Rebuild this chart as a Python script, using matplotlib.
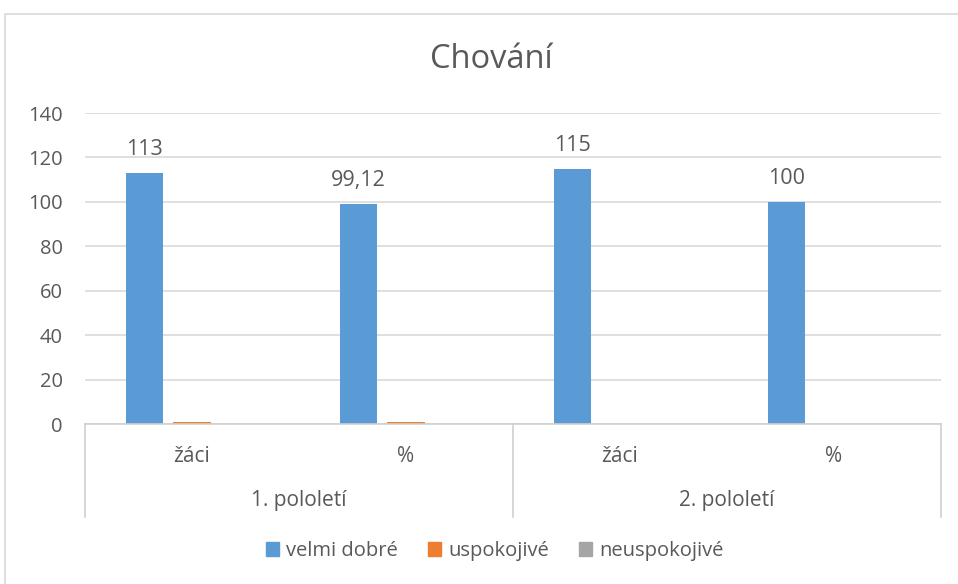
import matplotlib
matplotlib.use("Agg")
import matplotlib.pyplot as plt
from matplotlib.patches import Rectangle, Patch
from matplotlib.lines import Line2D
import matplotlib.transforms as mtransforms

plt.rcParams['font.family'] = ['Open Sans', 'DejaVu Sans']

title = "Chování"
categories = ["žáci", "%", "žáci", "%"]
groups = ["1. pololetí", "2. pololetí"]
series_names = ["velmi dobré", "uspokojivé", "neuspokojivé"]
velmi_dobre = [113, 99.12, 115, 100]
uspokojive = [1, 0.88, 0, 0]
neuspokojive = [0, 0, 0, 0]
labels_vd = ["113", "99,12", "115", "100"]
yticks = [0, 20, 40, 60, 80, 100, 120, 140]

colors = ["#5B9BD5", "#ED7D31", "#A5A5A5"]
text_color = "#595959"

W, H = 958, 584
fig = plt.figure(figsize=(W / 100, H / 100), dpi=100)

# chart area border
fig.patches.append(Rectangle((5 / W, -0.1), 1.2, 1 - 14 / H + 0.1, transform=fig.transFigure,
                             fill=False, edgecolor="#D9D9D9", linewidth=1.2))

ax = fig.add_axes([85 / W, 1 - 424 / H, (941 - 85) / W, (424 - 113) / H])
ax.set_xlim(-0.5, 3.5)
ax.set_ylim(0, 140)

bw = 0.173
step = 0.222
x = list(range(len(categories)))
for i, (vals, c) in enumerate(zip([velmi_dobre, uspokojive, neuspokojive], colors)):
    xs = [xx + (i - 1) * step for xx in x]
    ax.bar(xs, vals, width=bw, color=c, zorder=3)
    if i == 0:
        for xx, v, lab in zip(xs, vals, labels_vd):
            ax.annotate(lab, (xx, v), xytext=(0, 9), textcoords="offset points",
                        ha="center", va="bottom", fontsize=15.5, color=text_color)

ax.set_yticks(yticks)
ax.set_yticklabels([str(t) for t in yticks])
ax.tick_params(axis="y", length=0, pad=16, labelsize=14.5, labelcolor=text_color)
ax.set_xticks([])
ax.grid(axis="y", color="#D9D9D9", linewidth=1.2, zorder=0)
for s in ["left", "right", "top"]:
    ax.spines[s].set_visible(False)
ax.spines["bottom"].set_color("#D0D0D0")
ax.spines["bottom"].set_linewidth(1.2)
ax.spines["bottom"].set_zorder(4)

trans = mtransforms.blended_transform_factory(ax.transData, ax.transAxes)
for xx, cat in zip(x, categories):
    ax.text(xx, -0.103, cat, transform=trans, ha="center", va="center",
            fontsize=15, color=text_color)
for gi, g in enumerate(groups):
    ax.text(gi * 2 + 0.5, -0.245, g, transform=trans, ha="center", va="center",
            fontsize=15, color=text_color)
for xb in [-0.5, 1.5, 3.5]:
    ax.add_line(Line2D([xb, xb], [0, -0.3], transform=trans, color="#D0D0D0",
                       linewidth=1.2, clip_on=False))

fig.text(491 / W, 1 - 60 / H, title, ha="center", va="center",
         fontsize=23.5, color=text_color)

handles = [Patch(facecolor=c, edgecolor=c) for c in colors]
fig.legend(handles, series_names, loc="center", bbox_to_anchor=(495 / W, 1 - 551 / H),
           ncol=3, frameon=False, fontsize=14.5, labelcolor=text_color,
           handlelength=0.65, handleheight=0.65, handletextpad=0.35, columnspacing=1.5)

fig.savefig("out.png", dpi=100)
